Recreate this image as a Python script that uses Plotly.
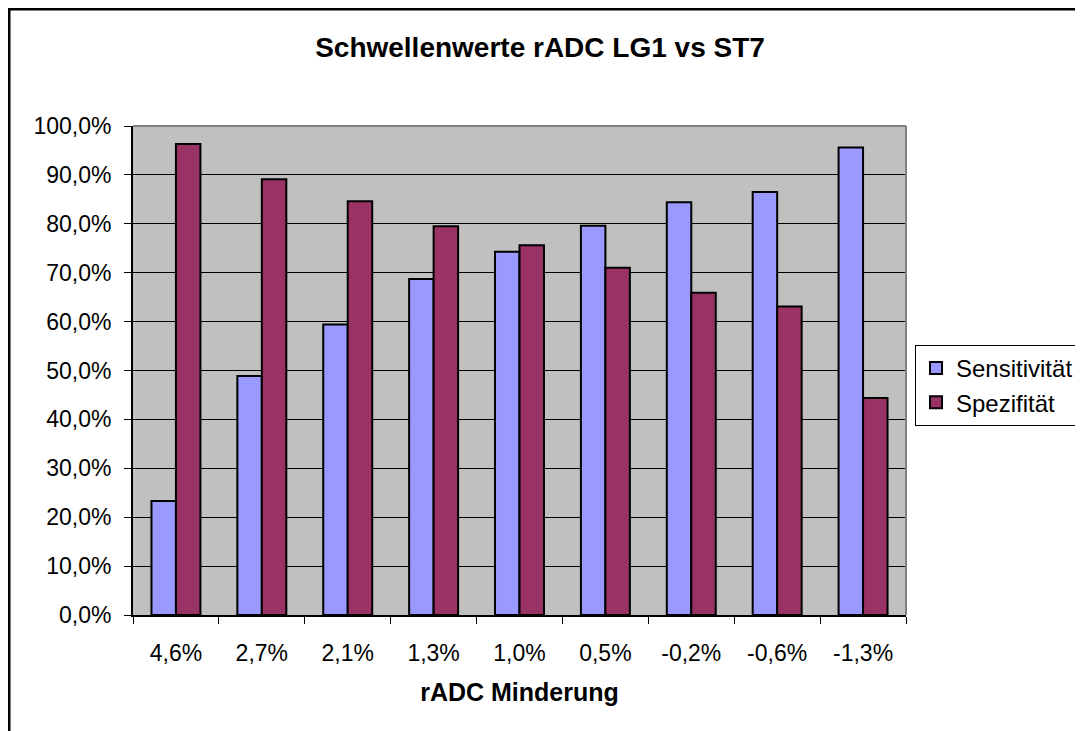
import plotly.graph_objects as go

categories = ["4,6%", "2,7%", "2,1%", "1,3%", "1,0%", "0,5%", "-0,2%", "-0,6%", "-1,3%"]
sensitivitaet = [0.233, 0.489, 0.594, 0.687, 0.743, 0.796, 0.844, 0.865, 0.956]
spezifitaet = [0.963, 0.891, 0.846, 0.795, 0.756, 0.710, 0.659, 0.631, 0.444]
y_ticks = [i / 10 for i in range(11)]

# page has an 8px body margin; work in page coordinates and convert
OFF = 8
W, H = 1083 - OFF, 731 - OFF
L, R, T, B = 133 - OFF, 906 - OFF, 126 - OFF, 615 - OFF


def px_x(p):
    return (p - OFF - L) / (R - L)


def px_y(p):
    return (B - (p - OFF)) / (B - T)


fig = go.Figure()
fig.add_trace(go.Bar(name="Sensitivität", x=categories, y=sensitivitaet,
                     marker=dict(color="#9999FF", line=dict(color="black", width=2))))
fig.add_trace(go.Bar(name="Spezifität", x=categories, y=spezifitaet,
                     marker=dict(color="#993366", line=dict(color="black", width=2))))

font = "Liberation Sans, Arial, sans-serif"
fig.update_layout(
    width=W, height=H,
    margin=dict(l=L, r=W - R, t=T, b=H - B, pad=0, autoexpand=False),
    paper_bgcolor="white", plot_bgcolor="#C0C0C0",
    separators=",.",
    barmode="group", bargap=0.43, bargroupgap=0,
    font=dict(family=font, size=23, color="black"),
    title=dict(text="<b>Schwellenwerte rADC LG1 vs ST7</b>", x=(540 - OFF) / W, xanchor="center",
               y=1 - (47 - OFF) / H, yanchor="middle", font=dict(size=28, family=font)),
    showlegend=True,
    legend=dict(x=px_x(915), y=px_y(345), xanchor="left", yanchor="top",
                bgcolor="white", bordercolor="black", borderwidth=1,
                font=dict(size=24, family=font), tracegroupgap=0, itemwidth=30),
    xaxis=dict(type="category", tickson="boundaries", ticks="outside", ticklen=7,
               tickcolor="black", showline=True, linecolor="black", linewidth=2,
               showgrid=False, tickfont=dict(size=23), ticklabelstandoff=16,
               title=dict(text="<b>rADC Minderung</b>", font=dict(size=25), standoff=19)),
    yaxis=dict(range=[0, 1], tickvals=y_ticks, tickformat=".1%", ticks="outside", ticklen=7,
               tickcolor="black", showline=True, linecolor="black", linewidth=2,
               showgrid=True, gridcolor="black", gridwidth=1, zeroline=False,
               tickfont=dict(size=23), ticklabelstandoff=8),
    shapes=[
        dict(type="line", xref="paper", yref="paper", x0=0, x1=1, y0=1, y1=1,
             line=dict(color="#808080", width=2)),
        dict(type="line", xref="paper", yref="paper", x0=1, x1=1, y0=0, y1=1,
             line=dict(color="#808080", width=2)),
        dict(type="rect", xref="paper", yref="paper", x0=px_x(9), x1=px_x(1200),
             y0=px_y(900), y1=px_y(9), line=dict(color="black", width=3), layer="below"),
    ],
)

fig.write_html("out.html")
